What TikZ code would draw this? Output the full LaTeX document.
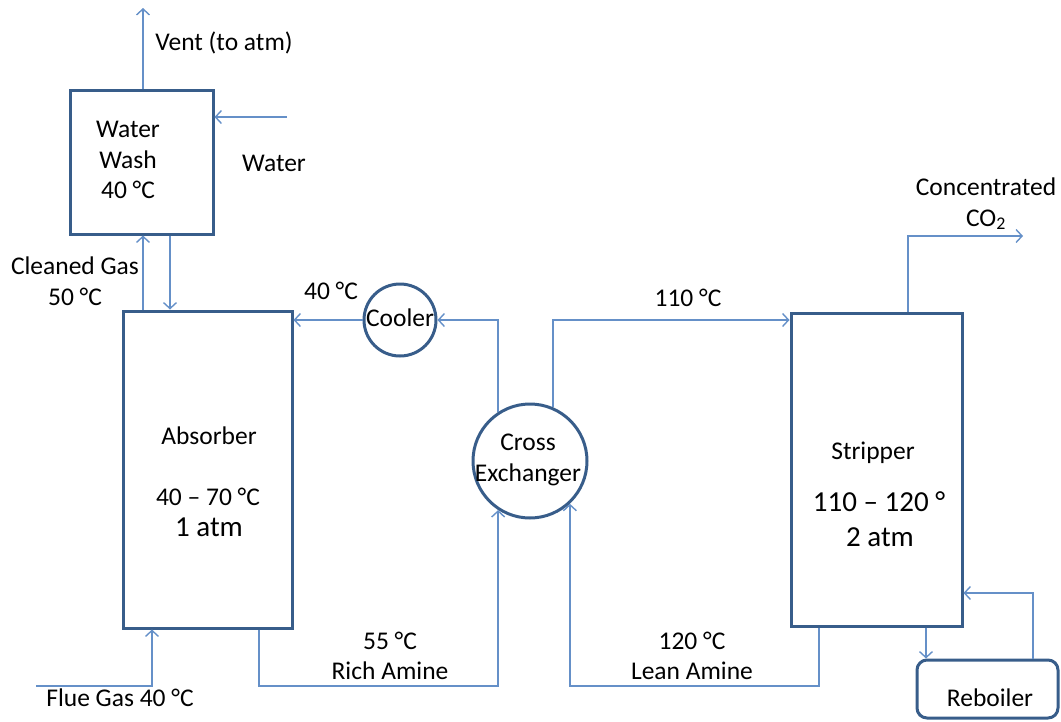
\documentclass[tikz,border=0pt]{standalone}
\usepackage{fontspec}
\setmainfont{Carlito}
\usetikzlibrary{arrows.meta}
\definecolor{boxc}{HTML}{385D8A}
\definecolor{linec}{HTML}{6590C8}
\tikzset{
 unit/.style={draw=boxc, line width=3pt, inner sep=0pt},
 pipe/.style={draw=linec, line width=1.6pt},
 arr/.style={pipe, -{Straight Barb[length=6pt,width=13pt,line width=1.4pt]}},
 lbl/.style={font=\fontsize{25.5}{30.5}\selectfont, align=center, inner sep=0pt, text=black},
 big/.style={font=\fontsize{29}{35}\selectfont, align=center, inner sep=0pt, text=black},
}
\begin{document}
\begin{tikzpicture}[x=1pt,y=-1pt]
\useasboundingbox (0,0) rectangle (1061,721);
% units
\node[unit, minimum width=143pt, minimum height=144pt] (ww) at (141.5,162) {};
\node[unit, minimum width=169pt, minimum height=317pt] (ab) at (207.5,469.5) {};
\node[unit, minimum width=171pt, minimum height=313pt] (st) at (876.5,469.5) {};
\node[unit, circle, minimum size=72pt] (co) at (400,320) {};
\node[unit, circle, minimum size=114pt] (cx) at (530,461) {};
\node[unit, rounded corners=10pt, minimum width=141pt, minimum height=58pt] (rb) at (987.5,689) {};
% free ends
\coordinate (ventend) at (143,8);
\coordinate (waterin) at (287,117);
\coordinate (wd) at (170,0);
\coordinate (flue) at (36,686);
\coordinate (fg) at (152,0);
\coordinate (ra) at (259,0);
\coordinate (la) at (819,0);
\coordinate (sr) at (926,0);
\coordinate (rs) at (1033,593);
\coordinate (co2x) at (908,236);
\coordinate (co2) at (1023,236);
% connectors
\draw[arr] (ventend |- ww.north) -- (ventend);
\draw[arr] (waterin) -- (waterin -| ww.east);
\draw[arr] (ventend |- ab.north) -- (ventend |- ww.south);
\draw[arr] (wd |- ww.south) -- (wd |- ab.north);
\draw[arr] (co.west) -- (co.west -| ab.east);
\draw[arr] (cx.123) |- (co.east);
\draw[arr] (cx.67) -- (cx.67 |- co.east) -- (co.east -| st.west);
\draw[arr] (flue) -| (fg |- ab.south);
\draw[arr] (ra |- ab.south) -- (ra |- flue) -| (cx.237);
\draw[arr] (la |- st.south) -- (la |- flue) -| (cx.313);
\draw[arr] (sr |- st.south) -- (sr |- rb.north);
\draw[arr] (rs |- rb.north) -- (rs) -- (rs -| st.east);
\draw[arr] (co2x |- st.north) -- (co2x) -- (co2);
% labels
\node[lbl] (tww) at (128,160) {Water\\Wash\\40 °C};
\node[lbl] (tvent) at (224,43) {Vent (to atm)};
\node[lbl] (twater) at (274,163) {Water};
\node[lbl] (tcg) at (75,281) {Cleaned Gas\\50 °C};
\node[lbl] (tcool) at (331,291) {40 °C};
\node[lbl] (tco) at (400,318) {Cooler};
\node[lbl] (tcx) at (528,460) {Cross\\Exchanger};
\node[lbl] (t110) at (688,298) {110 °C};
\node[lbl] (tco2) at (986,204) {Concentrated\\CO\textsubscript{2}};
\node[lbl] (tab) at (209,436) {Absorber};
\node[lbl] (tabt) at (208,497) {40 – 70 °C};
\node[big] (tabp) at (209,527) {1 atm};
\node[lbl] (tst) at (873,453) {Stripper};
\node[big] (tstt) at (879,502) {110 – 120 °};
\node[big] (tstp) at (880,537) {2 atm};
\node[lbl] (tflue) at (120,698) {Flue Gas 40 °C};
\node[lbl] (trich) at (390,656) {55 °C\\Rich Amine};
\node[lbl] (tlean) at (692,656) {120 °C\\Lean Amine};
\node[lbl] (trb) at (990,698) {Reboiler};
\end{tikzpicture}
\end{document}
